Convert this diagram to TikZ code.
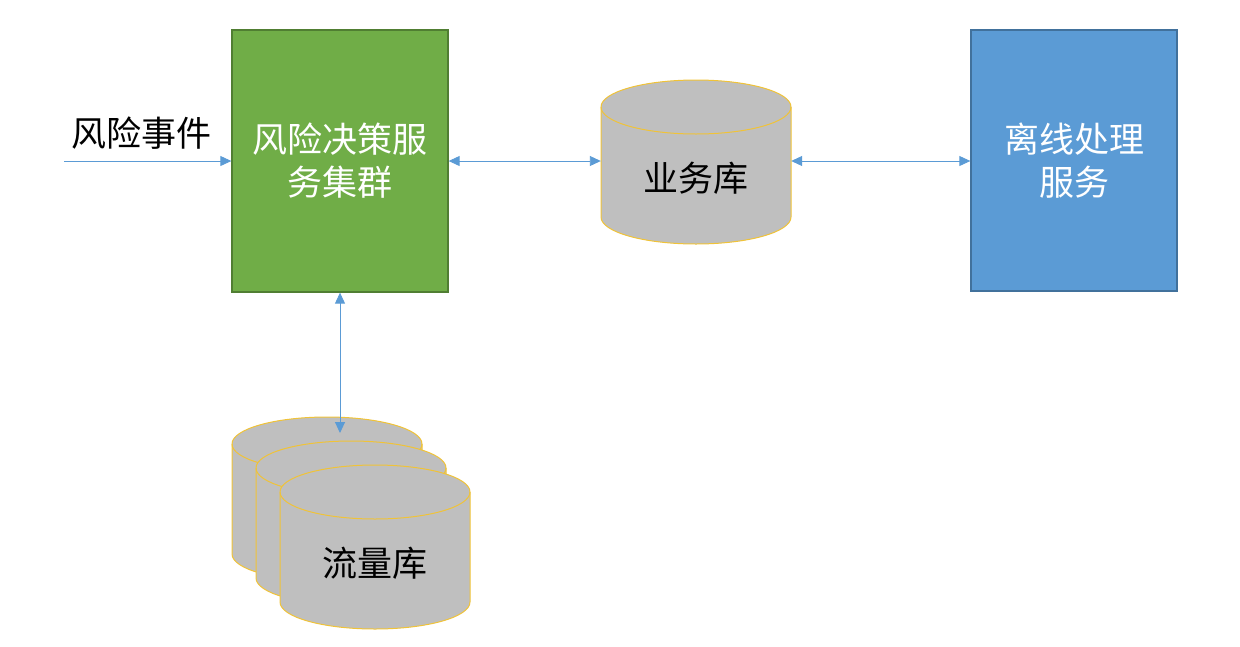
\documentclass[tikz,border=0pt]{standalone}
\usepackage{fontspec}
\setmainfont{Noto Sans CJK SC}
\usetikzlibrary{arrows.meta}
\definecolor{gfill}{HTML}{70AD47}
\definecolor{gline}{HTML}{507E32}
\definecolor{bfill}{HTML}{5B9BD5}
\definecolor{bline}{HTML}{41719C}
\definecolor{cfill}{HTML}{BFBFBF}
\definecolor{cline}{HTML}{F0C338}
\definecolor{arr}{HTML}{5B9BD5}
\tikzset{
  box/.style={draw, line width=1.3pt, inner sep=0pt, text=white, align=center, font=\fontsize{35}{43}\selectfont},
  frame/.style={inner sep=0pt, draw=none},
  lbl/.style={font=\fontsize{35}{43}\selectfont, inner sep=0pt},
  conn/.style={draw=arr, line width=0.9pt, -{Triangle[length=11pt,width=10pt]}},
  conn2/.style={draw=arr, line width=0.9pt, {Triangle[length=11pt,width=10pt]}-{Triangle[length=11pt,width=10pt]}},
  dbcyl/.pic={
    \path[fill=cfill, draw=cline, line width=1pt] (0,27) -- (0,137)
      arc[start angle=180, end angle=0, x radius=95, y radius=27]
      -- (190,27)
      arc[start angle=0, end angle=-180, x radius=95, y radius=27] -- cycle;
    \draw[cline, line width=1pt] (0,27) arc[start angle=180, end angle=0, x radius=95, y radius=27];
  }
}
\begin{document}
\begin{tikzpicture}[x=1pt, y=-1pt]
\useasboundingbox (0,0) rectangle (1240,646);
% boxes
\node[box, fill=gfill, draw=gline, minimum width=216, minimum height=262] (green) at (340,161) {风险决策服\\务集群};
\node[box, fill=bfill, draw=bline, minimum width=206, minimum height=261] (blue) at (1074,160.5) {离线处理\\服务};
% 业务库
\pic at (601,80) {dbcyl};
\node[frame, minimum width=190, minimum height=164] (yewu) at (696,161) {};
\node[lbl] (yewut) at (696,178) {业务库};
% 流量库 stack
\pic at (232,417) {dbcyl};
\pic at (256,441) {dbcyl};
\pic at (280,465) {dbcyl};
\node[frame, minimum width=239, minimum height=212] (liu) at (351.5,523) {};
\node[lbl] (liut) at (375,563) {流量库};
% event
\node[lbl] (evt) at (141,133) {风险事件};
\coordinate (evtstart) at (64,161);
\coordinate (liutop) at (340,433);
% connectors
\draw[conn] (evtstart) -- (green.west);
\draw[conn2] (green.east) -- (green.east -| yewu.west);
\draw[conn2] (yewu.east) -- (yewu.east -| blue.west);
\draw[conn2] (green.south) -- (liutop);
\end{tikzpicture}
\end{document}
